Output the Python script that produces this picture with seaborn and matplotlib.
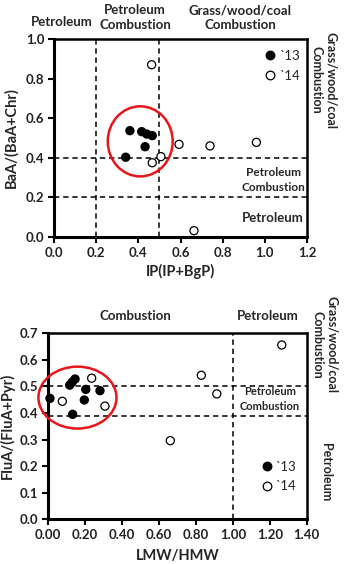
import matplotlib
matplotlib.use("Agg")
import matplotlib.pyplot as plt
from matplotlib.patches import Ellipse
from matplotlib.lines import Line2D
import seaborn as sns
import pandas as pd

# ---- data ----
years = ["`13", "`14"]

ip_13 = [0.36, 0.416, 0.44, 0.466, 0.432, 0.34]
baa_13 = [0.537, 0.532, 0.52, 0.512, 0.456, 0.403]
ip_14 = [0.463, 0.466, 0.507, 0.593, 0.74, 0.96, 0.664]
baa_14 = [0.87, 0.375, 0.406, 0.468, 0.46, 0.478, 0.032]

lmw_13 = [0.009, 0.116, 0.130, 0.145, 0.203, 0.280, 0.195, 0.132]
flua_13 = [0.455, 0.505, 0.517, 0.528, 0.489, 0.484, 0.449, 0.395]
lmw_14 = [0.076, 0.235, 0.307, 0.829, 0.913, 1.265, 0.661]
flua_14 = [0.444, 0.531, 0.426, 0.542, 0.472, 0.656, 0.296]

top_xticks = [0.0, 0.2, 0.4, 0.6, 0.8, 1.0, 1.2]
top_yticks = [0.0, 0.2, 0.4, 0.6, 0.8, 1.0]
bot_xticks = [0.0, 0.2, 0.4, 0.6, 0.8, 1.0, 1.2, 1.4]
bot_yticks = [0.0, 0.1, 0.2, 0.3, 0.4, 0.5, 0.6, 0.7]

sns.set_style("white")
plt.rcParams["font.family"] = ["Lato", "DejaVu Sans"]
plt.rcParams["font.weight"] = "bold"

fig = plt.figure(figsize=(3.46, 5.64), dpi=100)
W, H = 346, 564

def add_axes(l, r, t, b):
    return fig.add_axes([l / W, 1 - b / H, (r - l) / W, (b - t) / H])

ax1 = add_axes(54, 307, 39, 237)
ax2 = add_axes(48.3, 306.7, 333.3, 519.3)

palette = {"`13": "black", "`14": "white"}

def draw(ax, x13, y13, x14, y14):
    df = pd.DataFrame({
        "x": list(x13) + list(x14),
        "y": list(y13) + list(y14),
        "year": [years[0]] * len(x13) + [years[1]] * len(x14),
    })
    sns.scatterplot(data=df, x="x", y="y", hue="year", palette=palette,
                    edgecolor="black", linewidth=0.9, s=34, ax=ax,
                    legend=False, zorder=5, clip_on=False)

def style(ax, xticks, yticks, xfmt, yfmt):
    ax.set_xticks(xticks)
    ax.set_yticks(yticks)
    ax.set_xticklabels([xfmt.format(v) for v in xticks])
    ax.set_yticklabels([yfmt.format(v) for v in yticks])
    ax.set_xlim(xticks[0], xticks[-1])
    ax.set_ylim(yticks[0], yticks[-1])
    ax.tick_params(axis="both", direction="out", length=4, width=1.5,
                   labelsize=9.5, colors="black", pad=3, left=True, bottom=True)
    for lab in ax.get_xticklabels() + ax.get_yticklabels():
        lab.set_fontweight("bold")
        lab.set_color("#222222")
    for side, lw in [("left", 2.2), ("bottom", 2.2), ("top", 1.8), ("right", 1.8)]:
        ax.spines[side].set_visible(True)
        ax.spines[side].set_color("black")
        ax.spines[side].set_linewidth(lw)

def legend(ax, x, y):
    handles = [
        Line2D([], [], marker="o", ls="none", mfc="black", mec="black", ms=6.2, mew=0.9),
        Line2D([], [], marker="o", ls="none", mfc="white", mec="black", ms=6.2, mew=0.9),
    ]
    leg = ax.legend(handles, years, loc="center", bbox_to_anchor=(x, y),
                    frameon=False, handletextpad=0.15, labelspacing=0.6,
                    handlelength=1.0, borderpad=0, prop={"size": 9.5, "weight": "normal"})
    leg.set_zorder(6)

dash = dict(color="black", lw=1.1, ls=(0, (3.5, 2.5)), zorder=2)

# ---- top panel ----
draw(ax1, ip_13, baa_13, ip_14, baa_14)
style(ax1, top_xticks, top_yticks, "{:.1f}", "{:.1f}")
ax1.axvline(0.2, **dash)
ax1.axvline(0.5, **dash)
ax1.axhline(0.4, **dash)
ax1.axhline(0.2, **dash)
ax1.add_patch(Ellipse((0.409, 0.483), 0.308, 0.354, fill=False,
                      edgecolor="#e8151b", lw=1.8, zorder=7))
ax1.set_xlabel("IP(IP+BgP)", fontsize=10.5, fontweight="bold")
ax1.set_ylabel("BaA/(BaA+Chr)", fontsize=10.5, fontweight="bold")
ax1.xaxis.set_label_coords(0.5, -0.138)
ax1.yaxis.set_label_coords(-0.14, 0.5)
ax1.text(1.039, 0.289, "Petroleum\nCombustion", ha="center", va="center",
         fontsize=8.5, fontweight="bold", linespacing=1.45)
ax1.text(1.039, 0.097, "Petroleum", ha="center", va="center",
         fontsize=9.5, fontweight="bold")
legend(ax1, 0.90, 0.864)

# ---- bottom panel ----
draw(ax2, lmw_13, flua_13, lmw_14, flua_14)
style(ax2, bot_xticks, bot_yticks, "{:.2f}", "{:.1f}")
ax2.axvline(1.0, **dash)
ax2.axhline(0.5, **dash)
ax2.axhline(0.39, **dash)
ax2.add_patch(Ellipse((0.158, 0.458), 0.423, 0.233, fill=False,
                      edgecolor="#e8151b", lw=1.8, zorder=7, clip_on=False))
ax2.set_xlabel("LMW/HMW", fontsize=10.5, fontweight="bold")
ax2.set_ylabel("FluA/(FluA+Pyr)", fontsize=10.5, fontweight="bold")
ax2.xaxis.set_label_coords(0.5, -0.158)
ax2.yaxis.set_label_coords(-0.128, 0.5)
ax2.text(1.20, 0.4535, "Petroleum\nCombustion", ha="center", va="center",
         fontsize=8, fontweight="bold", linespacing=1.45)
legend(ax2, 0.889, 0.23)

# ---- figure-level annotations ----
def ftext(x, y, s, size=9.5, **kw):
    fig.text(x / W, 1 - y / H, s, ha="center", va="center",
             fontsize=size, fontweight="bold", linespacing=1.25, **kw)

ftext(62, 22, "Petroleum")
ftext(135, 17.5, "Petroleum\nCombustion")
ftext(240, 17.5, "Grass/wood/coal\nCombustion")
ftext(324, 80, "Grass/wood/coal\nCombustion", size=9, rotation=270)

ftext(135, 316, "Combustion")
ftext(268, 316, "Petroleum")
ftext(325, 345, "Grass/wood/coal\nCombustion", size=9, rotation=270)
ftext(326, 472, "Petroleum", size=9, rotation=270)

fig.savefig("out.png", dpi=100)
